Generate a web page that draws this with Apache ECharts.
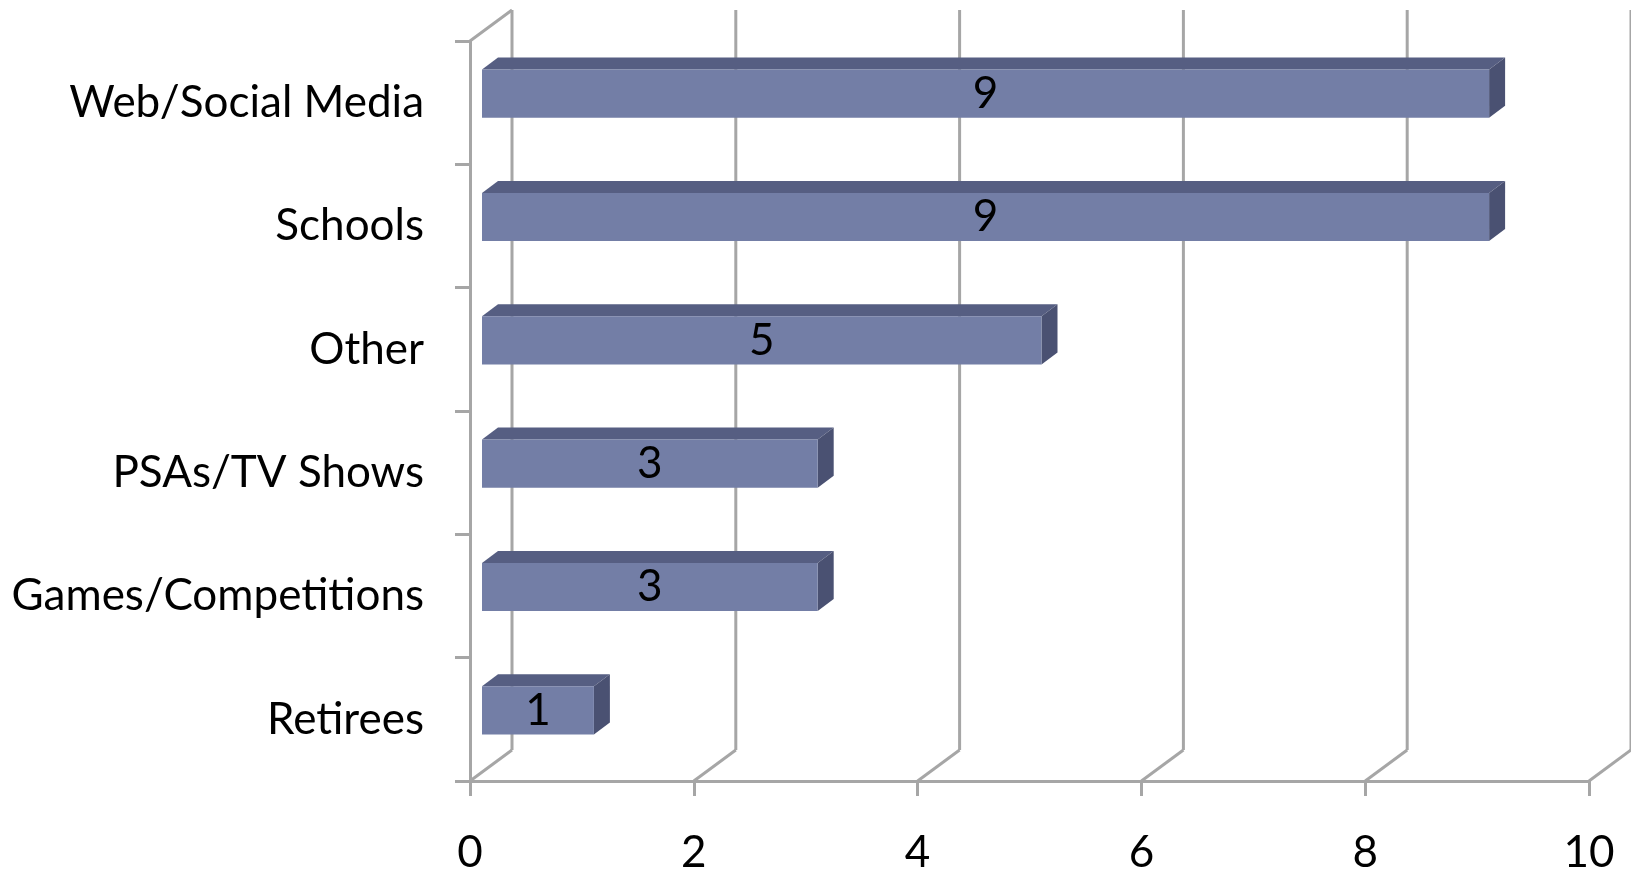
<!DOCTYPE html>
<html><head><meta charset="utf-8">
<script src="https://cdn.jsdelivr.net/npm/echarts@6/dist/echarts.min.js"></script>
<style>html,body{margin:0;padding:0;background:#fff}#c{width:1631px;height:875px}</style>
</head><body><div id="c"></div>
<script>
const categories = ['Web/Social Media','Schools','Other','PSAs/TV Shows','Games/Competitions','Retirees'];
const values = [9,9,5,3,3,1];
const xTicks = [0,2,4,6,8,10];

const DX = 42, DY = -31;          // wall depth offset
const BF = [12, -9], BB = [28, -21]; // bar front/back depth offsets
const GRID = '#a6a6a6', LW = 3;
const FONT = 'Lato';
const FS = 44;

const chart = echarts.init(document.getElementById('c'), null, {renderer: 'canvas'});

function wallItem(params, api) {
  const cs = params.coordSys;
  const x = api.coord([api.value(0), 0])[0];
  const bottom = cs.y + cs.height, top = cs.y;
  const st = {stroke: GRID, lineWidth: LW};
  const children = [
    {type: 'line', shape: {x1: x, y1: bottom, x2: x + DX, y2: bottom + DY}, style: st},
    {type: 'line', shape: {x1: x + DX, y1: bottom + DY, x2: x + DX, y2: top + DY}, style: st}
  ];
  if (params.dataIndex === 0) {
    children.push({type: 'line', shape: {x1: x, y1: top, x2: x + DX, y2: top + DY}, style: st});
  }
  return {type: 'group', children};
}

function barItem(params, api) {
  const v = api.value(0), c = api.value(1);
  const p0 = api.coord([0, c]), p1 = api.coord([v, c]);
  const band = api.size([0, 1])[1];
  const h = band * 0.39;
  const xL = p0[0] + BF[0], xR = p1[0] + BF[0], yc = p0[1] + BF[1];
  const yT = yc - h / 2, yB = yc + h / 2;
  const ddx = BB[0] - BF[0], ddy = BB[1] - BF[1];
  return {type: 'group', children: [
    {type: 'polygon', shape: {points: [[xL, yT], [xL + ddx, yT + ddy], [xR + ddx, yT + ddy], [xR, yT]]}, style: {fill: '#565e82'}},
    {type: 'polygon', shape: {points: [[xR, yT], [xR + ddx, yT + ddy], [xR + ddx, yB + ddy], [xR, yB]]}, style: {fill: '#4a5172'}},
    {type: 'rect', shape: {x: xL, y: yT, width: xR - xL, height: h}, style: {fill: '#737ea6'}},
    {type: 'text', style: {text: String(v), x: (xL + xR) / 2, y: yc, align: 'center', verticalAlign: 'middle',
      fontFamily: FONT, fontSize: FS, fill: '#000'}}
  ]};
}

chart.setOption({
  animation: false,
  grid: {left: 470, right: 42, top: 41, bottom: 90, containLabel: false},
  xAxis: {
    type: 'value', min: 0, max: 10, interval: 2,
    axisLine: {show: true, lineStyle: {color: GRID, width: LW}},
    axisTick: {show: true, length: 15, lineStyle: {color: GRID, width: LW}},
    splitLine: {show: false},
    axisLabel: {fontFamily: FONT, fontSize: FS, color: '#000', margin: 50, formatter: v => xTicks.includes(v) ? String(v) : ''}
  },
  yAxis: {
    type: 'category', data: categories, inverse: true,
    axisLine: {show: true, lineStyle: {color: GRID, width: LW}},
    axisTick: {show: true, length: 15, lineStyle: {color: GRID, width: LW}},
    axisLabel: {fontFamily: FONT, fontSize: FS, color: '#000', margin: 46}
  },
  series: [
    {type: 'custom', renderItem: wallItem, data: xTicks.map(v => [v, 0]), encode: {x: 0, y: 1}, z: 1, silent: true},
    {type: 'custom', renderItem: barItem, data: values.map((v, i) => [v, i]), encode: {x: 0, y: 1}, z: 3, silent: true}
  ]
});
</script></body></html>
